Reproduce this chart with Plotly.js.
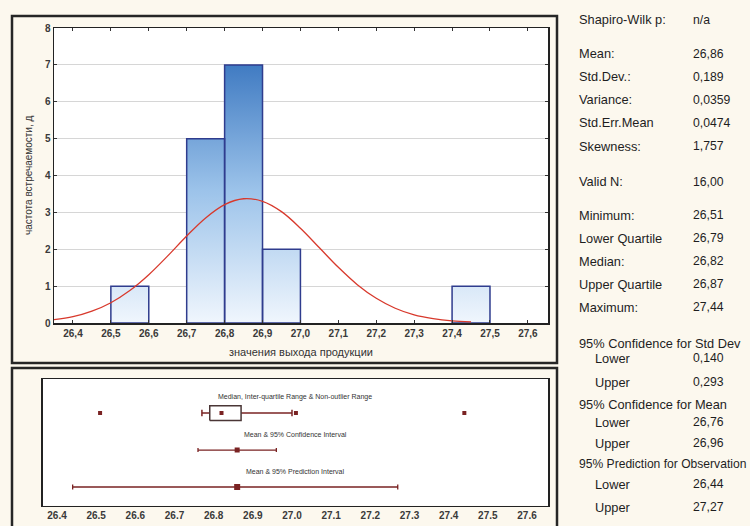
<!DOCTYPE html>
<html>
<head>
<meta charset="utf-8">
<script src="https://cdn.plot.ly/plotly-3.0.1.min.js"></script>
<style>
  html, body { margin: 0; padding: 0; background: #fcf8ee; }
  #chart { width: 750px; height: 526px; }
</style>
</head>
<body>
<div id="chart"></div>
<script>
// ---------------- DATA ----------------
// Histogram bins (left edges), counts, bin width
const binStarts = [26.5, 26.7, 26.8, 26.9, 27.4];
const binCounts = [1, 5, 7, 2, 1];
const binWidth = 0.1;

// Fitted normal curve
const curveX = [26.35, 26.40, 26.45, 26.50, 26.55, 26.60, 26.65, 26.70, 26.75, 26.80, 26.85, 26.90,
                26.95, 27.00, 27.05, 27.10, 27.15, 27.20, 27.25, 27.30, 27.35, 27.40, 27.45];
const curveY = [0.09, 0.17, 0.32, 0.55, 0.88, 1.31, 1.82, 2.36, 2.85, 3.21, 3.37, 3.30,
                3.02, 2.57, 2.04, 1.51, 1.04, 0.67, 0.40, 0.22, 0.12, 0.06, 0.03];

// Axis ticks
const xTickVals = [26.4, 26.5, 26.6, 26.7, 26.8, 26.9, 27.0, 27.1, 27.2, 27.3, 27.4, 27.5, 27.6];
const xTickLabelsTop = ["26,4", "26,5", "26,6", "26,7", "26,8", "26,9", "27,0", "27,1", "27,2", "27,3", "27,4", "27,5", "27,6"];
const xTickLabelsBottom = ["26.4", "26.5", "26.6", "26.7", "26.8", "26.9", "27.0", "27.1", "27.2", "27.3", "27.4", "27.5", "27.6"];
const yTickVals = [0, 1, 2, 3, 4, 5, 6, 7, 8];

// Box / interval summary
const boxQ1 = 26.79, boxMedian = 26.82, boxQ3 = 26.87;
const whiskerLow = 26.77, whiskerHigh = 27.00;
const markedPoints = [26.51, 27.01, 27.44];
const meanValue = 26.86;
const meanCI = [26.76, 26.96];
const predInterval = [26.44, 27.27];
const rowLabels = ["Median, Inter-quartile Range & Non-outlier Range",
                   "Mean & 95% Confidence Interval",
                   "Mean & 95% Prediction Interval"];

// Statistics panel
const statLabels = ["Shapiro-Wilk p:", "Mean:", "Std.Dev.:", "Variance:", "Std.Err.Mean", "Skewness:",
                    "Valid N:", "Minimum:", "Lower Quartile", "Median:", "Upper Quartile", "Maximum:",
                    "95% Confidence for Std Dev", "Lower", "Upper",
                    "95% Confidence for Mean", "Lower", "Upper",
                    "95% Prediction for Observation", "Lower", "Upper"];
const statValues = ["n/a", "26,86", "0,189", "0,0359", "0,0474", "1,757",
                    "16,00", "26,51", "26,79", "26,82", "26,87", "27,44",
                    "", "0,140", "0,293",
                    "", "26,76", "26,96",
                    "", "26,44", "27,27"];

// ---------------- LAYOUT HELPERS ----------------
const W = 750, H = 526;
const px = v => v / W;
const py = v => 1 - v / H;
const FONT = "Liberation Sans, Arial, sans-serif";
const statRowY = [20, 54, 77, 100, 123, 146, 182, 215, 238, 261, 284, 307, 343, 358, 382, 404, 422, 443, 464, 484, 507];
const statIndent = [0,0,0,0,0,0,0,0,0,0,0,0,0,1,1,0,1,1,0,1,1];
const statSize = [12.8,12.8,12.8,12.8,12.8,12.8,12.8,12.8,12.8,12.8,12.8,12.8,12.8,12.8,12.8,12.8,12.8,12.8,12.1,12.8,12.8];

// ---------------- TRACES ----------------
const histX = [], histY = [];
binStarts.forEach((s, i) => {
  const e = s + binWidth, c = binCounts[i];
  histX.push(s, s, e, e, s, null);
  histY.push(0, c, c, 0, 0, null);
});

const maroon = "#7a2323";
const traces = [];

traces.push({
  type: "scatter", mode: "lines", x: histX, y: histY, xaxis: "x", yaxis: "y",
  fill: "toself",
  fillgradient: { type: "vertical", start: 0, stop: 7.2,
                  colorscale: [[0, "#f0f6fd"], [0.5, "#9cc3ea"], [1, "#3b77c0"]] },
  line: { color: "#2f3c8e", width: 1.5 },
  hoverinfo: "skip", showlegend: false
});

traces.push({
  type: "scatter", mode: "lines", x: curveX, y: curveY, xaxis: "x", yaxis: "y",
  line: { color: "#d8392c", width: 1.3, shape: "spline" },
  hoverinfo: "skip", showlegend: false
});

// Bottom panel rows
const row1 = 3, row2 = 2, row3 = 1;
const boxHalf = 0.2, capHalf = 0.09;

// whiskers and caps
traces.push({
  type: "scatter", mode: "lines", xaxis: "x2", yaxis: "y2",
  x: [whiskerLow, boxQ1, null, boxQ3, whiskerHigh, null, whiskerLow, whiskerLow, null, whiskerHigh, whiskerHigh],
  y: [row1, row1, null, row1, row1, null, row1 - capHalf, row1 + capHalf, null, row1 - capHalf, row1 + capHalf],
  line: { color: maroon, width: 1.5 }, hoverinfo: "skip", showlegend: false
});
// box
traces.push({
  type: "scatter", mode: "lines", xaxis: "x2", yaxis: "y2",
  x: [boxQ1, boxQ3, boxQ3, boxQ1, boxQ1],
  y: [row1 - boxHalf, row1 - boxHalf, row1 + boxHalf, row1 + boxHalf, row1 - boxHalf],
  fill: "toself", fillcolor: "#ffffff",
  line: { color: "#4a3636", width: 1.5 }, hoverinfo: "skip", showlegend: false
});
// median + marked points
traces.push({
  type: "scatter", mode: "markers", xaxis: "x2", yaxis: "y2",
  x: [boxMedian].concat(markedPoints), y: [row1].concat(markedPoints.map(() => row1)),
  marker: { symbol: "square", size: 4, color: maroon },
  hoverinfo: "skip", showlegend: false
});
// mean & CI
traces.push({
  type: "scatter", mode: "markers", xaxis: "x2", yaxis: "y2",
  x: [meanValue], y: [row2],
  error_x: { type: "data", symmetric: false, array: [meanCI[1] - meanValue], arrayminus: [meanValue - meanCI[0]],
             color: maroon, thickness: 1.3, width: 2 },
  marker: { symbol: "square", size: 5, color: maroon },
  hoverinfo: "skip", showlegend: false
});
// mean & prediction interval
traces.push({
  type: "scatter", mode: "markers", xaxis: "x2", yaxis: "y2",
  x: [meanValue], y: [row3],
  error_x: { type: "data", symmetric: false, array: [predInterval[1] - meanValue], arrayminus: [meanValue - predInterval[0]],
             color: maroon, thickness: 1.3, width: 2.5 },
  marker: { symbol: "square", size: 6, color: maroon },
  hoverinfo: "skip", showlegend: false
});

// ---------------- ANNOTATIONS ----------------
const annotations = [];
annotations.push({
  xref: "paper", yref: "paper", x: px(28), y: py(176), text: "частота встречаемости, д",
  textangle: -90, showarrow: false, xanchor: "center", yanchor: "middle",
  font: { family: FONT, size: 10, color: "#333333" }
});
annotations.push({
  xref: "paper", yref: "paper", x: px(301), y: py(352), text: "значения выхода продукции",
  showarrow: false, xanchor: "center", yanchor: "middle",
  font: { family: FONT, size: 11, color: "#333333" }
});
[row1, row2, row3].forEach((r, i) => {
  annotations.push({
    xref: "x2 domain", yref: "y2", x: 0.5, y: r + 0.43, text: rowLabels[i],
    showarrow: false, xanchor: "center", yanchor: "middle",
    font: { family: FONT, size: 7, color: "#333333" }
  });
});
statLabels.forEach((t, i) => {
  annotations.push({
    xref: "paper", yref: "paper", x: px(statIndent[i] ? 593 : 577), y: py(statRowY[i]), text: t,
    showarrow: false, xanchor: "left", yanchor: "middle",
    font: { family: FONT, size: statSize[i], color: "#1e1e1e" }
  });
  if (statValues[i]) {
    annotations.push({
      xref: "paper", yref: "paper", x: px(691), y: py(statRowY[i]), text: statValues[i],
      showarrow: false, xanchor: "left", yanchor: "middle",
      font: { family: FONT, size: 12.2, color: "#1e1e1e" }
    });
  }
});

// ---------------- SHAPES (panel frames) ----------------
const shapes = [
  { type: "rect", xref: "paper", yref: "paper", x0: px(12), x1: px(557), y0: py(363), y1: py(16),
    line: { color: "#262626", width: 2.5 }, layer: "below" },
  { type: "rect", xref: "paper", yref: "paper", x0: px(12), x1: px(557), y0: py(545), y1: py(368),
    line: { color: "#262626", width: 2.5 }, layer: "below" }
];

const tickFont = { family: FONT, size: 10, color: "#3a3a3a", weight: "bold" };

const layout = {
  width: W, height: H,
  margin: { l: 0, r: 0, t: 0, b: 0 },
  paper_bgcolor: "#fcf8ee",
  plot_bgcolor: "#ffffff",
  showlegend: false,
  xaxis: {
    domain: [px(54), px(548)], anchor: "y", range: [26.35, 27.653],
    tickvals: xTickVals, ticktext: xTickLabelsTop, tickfont: tickFont,
    showgrid: false, zeroline: false, showline: true, mirror: "ticks",
    linecolor: "#222222", linewidth: 1.5, ticks: "inside", ticklen: 3, tickcolor: "#333333"
  },
  yaxis: {
    domain: [py(323), py(28)], anchor: "x", range: [0, 8],
    tickvals: yTickVals, tickfont: tickFont,
    showgrid: true, gridcolor: "#d6d6d6", gridwidth: 1, zeroline: false,
    showline: true, mirror: "ticks", linecolor: "#222222", linewidth: 1.5,
    ticks: "inside", ticklen: 3, tickcolor: "#333333"
  },
  xaxis2: {
    domain: [px(42.7), px(548)], anchor: "y2", range: [26.3635, 27.6536],
    tickvals: xTickVals, ticktext: xTickLabelsBottom, tickfont: tickFont,
    showgrid: false, zeroline: false, showline: true, mirror: true,
    linecolor: "#222222", linewidth: 1.5, ticks: ""
  },
  yaxis2: {
    domain: [py(505.7), py(379)], anchor: "x2", range: [0.495, 3.92],
    showgrid: false, zeroline: false, showticklabels: false, showline: true, mirror: true,
    linecolor: "#222222", linewidth: 1.5, ticks: ""
  },
  annotations: annotations,
  shapes: shapes
};

Plotly.newPlot("chart", traces, layout, { staticPlot: true, displayModeBar: false });
</script>
</body>
</html>
